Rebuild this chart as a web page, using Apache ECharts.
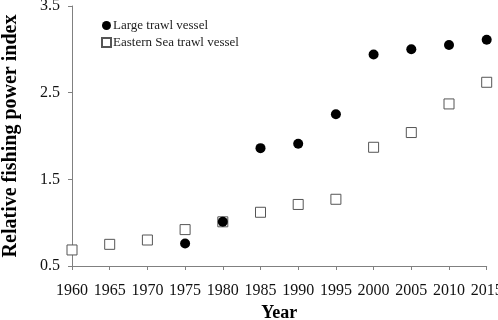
<!DOCTYPE html>
<html><head><meta charset="utf-8">
<script src="https://cdn.jsdelivr.net/npm/echarts@6/dist/echarts.min.js"></script>
<style>html,body{margin:0;padding:0;background:#fff}#c{width:498px;height:320px}</style>
</head><body><div id="c"></div>
<script>
var years = [1960,1965,1970,1975,1980,1985,1990,1995,2000,2005,2010,2015];
var largeYears = [1975,1980,1985,1990,1995,2000,2005,2010,2015];
var largeValues = [0.76,1.01,1.86,1.91,2.25,2.94,3.00,3.05,3.11];
var eastValues = [0.685,0.75,0.80,0.92,1.01,1.12,1.21,1.27,1.87,2.04,2.37,2.62];
var seriesNames = ['Large trawl vessel','Eastern Sea trawl vessel'];
var font = 'Liberation Serif, Times New Roman, serif';
var chart = echarts.init(document.getElementById('c'));
chart.setOption({
  animation:false,
  textStyle:{fontFamily:font},
  grid:{left:72,right:11.3,top:6,bottom:54,containLabel:false,outerBoundsMode:'none'},
  legend:{orient:'vertical',left:96,top:14,itemGap:4,itemWidth:9,itemHeight:9,
    textStyle:{fontFamily:font,fontSize:13,color:'#222',padding:[0,0,0,-3]},
    data:[{name:seriesNames[0],icon:'circle'},{name:seriesNames[1],icon:'rect'}]},
  xAxis:{type:'value',min:1960,max:2015,interval:5,
    name:'Year',nameLocation:'middle',nameGap:33,
    nameTextStyle:{fontFamily:font,fontSize:18,fontWeight:'bold',color:'#000'},
    axisLine:{lineStyle:{color:'#808080'}},
    axisTick:{show:true,length:4,lineStyle:{color:'#808080'}},
    splitLine:{show:false},
    axisLabel:{fontFamily:font,fontSize:16,color:'#111',margin:17,formatter:function(v){return String(v);}}},
  yAxis:{type:'value',min:0.5,max:3.5,interval:1,
    name:'Relative fishing power index',nameLocation:'middle',nameGap:51,
    nameTextStyle:{fontFamily:font,fontSize:20,fontWeight:'bold',color:'#000'},
    axisLine:{show:true,lineStyle:{color:'#808080'}},
    axisTick:{show:true,length:4,lineStyle:{color:'#808080'}},
    splitLine:{show:false},
    axisLabel:{fontFamily:font,fontSize:16,color:'#111',margin:12,formatter:function(v){return v.toFixed(1);}}},
  series:[
    {name:seriesNames[1],type:'scatter',symbol:'rect',symbolSize:10,
     itemStyle:{color:'#fff',borderColor:'#555',borderWidth:1,opacity:1},
     data:years.map(function(y,i){return [y,eastValues[i]];}),z:2},
    {name:seriesNames[0],type:'scatter',symbol:'circle',symbolSize:10,
     itemStyle:{color:'#000',opacity:1},
     data:largeYears.map(function(y,i){return [y,largeValues[i]];}),z:3}
  ]
});
</script></body></html>
